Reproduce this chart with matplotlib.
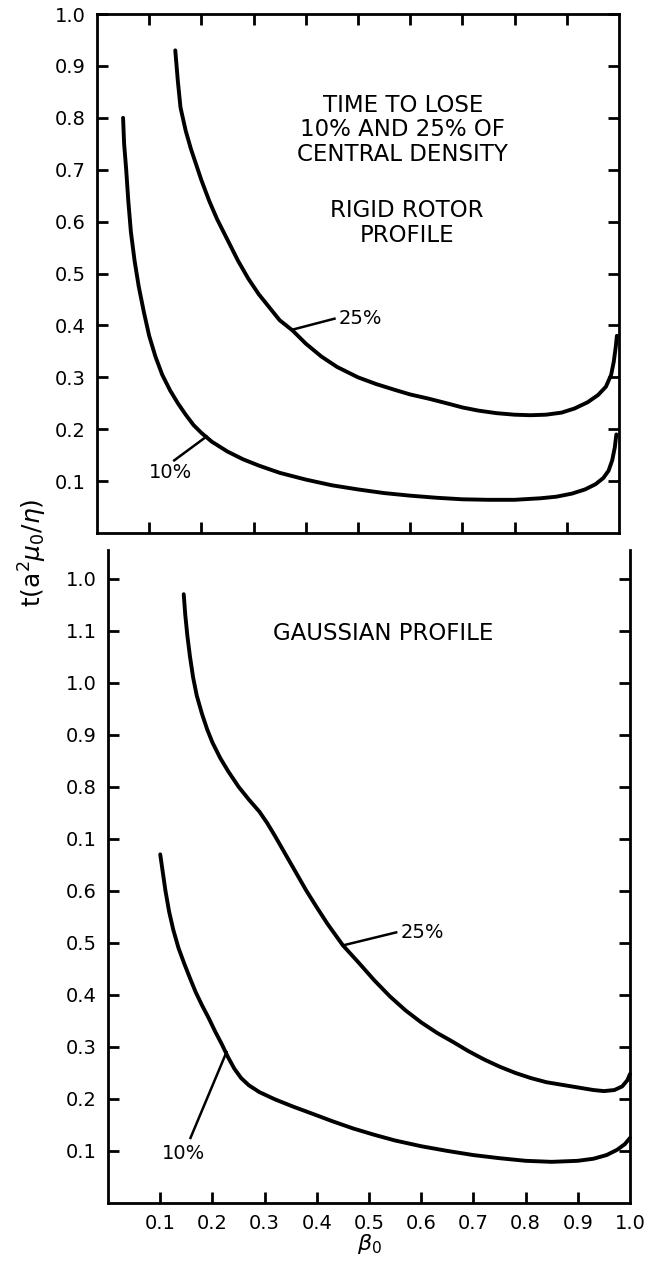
import matplotlib.pyplot as plt

# Rigid rotor profile: time to lose 10% / 25% of central density
rr_beta_10 = [0.05, 0.052, 0.056, 0.06, 0.065, 0.072, 0.08, 0.09, 0.10, 0.112,
              0.125, 0.14, 0.155, 0.17, 0.185, 0.2, 0.22, 0.25, 0.28, 0.31,
              0.35, 0.4, 0.45, 0.5, 0.55, 0.6, 0.65, 0.7, 0.75, 0.8,
              0.85, 0.88, 0.91, 0.935, 0.955, 0.97, 0.98, 0.987, 0.992, 0.995]
rr_time_10 = [0.80, 0.75, 0.70, 0.64, 0.58, 0.525, 0.475, 0.425, 0.38, 0.34,
              0.305, 0.275, 0.25, 0.228, 0.208, 0.193, 0.176, 0.157, 0.142, 0.13,
              0.116, 0.103, 0.092, 0.084, 0.077, 0.072, 0.068, 0.065, 0.064, 0.064,
              0.067, 0.07, 0.076, 0.084, 0.094, 0.106, 0.12, 0.14, 0.165, 0.19]
rr_beta_25 = [0.15, 0.155, 0.16, 0.17, 0.18, 0.19, 0.2, 0.215, 0.23, 0.25,
              0.27, 0.29, 0.31, 0.33, 0.35, 0.375, 0.4, 0.43, 0.46, 0.5,
              0.535, 0.57, 0.6, 0.635, 0.67, 0.7, 0.73, 0.765, 0.8, 0.83,
              0.86, 0.89, 0.915, 0.94, 0.96, 0.975, 0.985, 0.99, 0.994, 0.996]
rr_time_25 = [0.93, 0.87, 0.82, 0.775, 0.74, 0.71, 0.68, 0.64, 0.605, 0.565,
              0.525, 0.49, 0.46, 0.435, 0.41, 0.39, 0.365, 0.34, 0.32, 0.30,
              0.287, 0.276, 0.267, 0.259, 0.25, 0.242, 0.236, 0.231, 0.228, 0.227,
              0.228, 0.232, 0.24, 0.252, 0.266, 0.282, 0.305, 0.33, 0.36, 0.38]

# Gaussian profile
gs_beta_10 = [0.1, 0.105, 0.11, 0.117, 0.125, 0.135, 0.146, 0.157, 0.168, 0.18,
              0.193, 0.205, 0.218, 0.23, 0.242, 0.255, 0.27, 0.29, 0.32, 0.355,
              0.39, 0.43, 0.47, 0.51, 0.55, 0.6, 0.65, 0.7, 0.75, 0.8,
              0.85, 0.9, 0.93, 0.955, 0.975, 0.99, 1.0]
gs_time_10 = [0.67, 0.635, 0.6, 0.56, 0.525, 0.49, 0.46, 0.432, 0.405, 0.38,
              0.355, 0.33, 0.305, 0.28, 0.258, 0.24, 0.226, 0.213, 0.199, 0.185,
              0.172, 0.157, 0.143, 0.131, 0.12, 0.109, 0.1, 0.092, 0.086, 0.081,
              0.079, 0.081, 0.085, 0.092, 0.102, 0.113, 0.125]
gs_beta_25 = [0.145, 0.148, 0.152, 0.157, 0.163, 0.17, 0.18, 0.19, 0.2, 0.215,
              0.23, 0.25, 0.27, 0.29, 0.305, 0.32, 0.34, 0.36, 0.38, 0.4,
              0.42, 0.45, 0.48, 0.51, 0.54, 0.57, 0.6, 0.63, 0.66, 0.69,
              0.72, 0.75, 0.78, 0.81, 0.84, 0.87, 0.9, 0.93, 0.95, 0.97,
              0.985, 0.995, 1.0]
gs_time_25 = [1.17, 1.13, 1.09, 1.05, 1.01, 0.975, 0.94, 0.91, 0.885, 0.855,
              0.83, 0.80, 0.775, 0.752, 0.73, 0.705, 0.67, 0.635, 0.6, 0.568,
              0.537, 0.495, 0.462, 0.428, 0.397, 0.37, 0.347, 0.327, 0.31, 0.292,
              0.276, 0.262, 0.25, 0.24, 0.232, 0.227, 0.222, 0.217, 0.215, 0.217,
              0.224, 0.236, 0.248]

x_ticks = [0.1, 0.2, 0.3, 0.4, 0.5, 0.6, 0.7, 0.8, 0.9]
x_labels = ["0.1", "0.2", "0.3", "0.4", "0.5", "0.6", "0.7", "0.8", "0.9", "1.0"]
top_y_ticks = [0.1, 0.2, 0.3, 0.4, 0.5, 0.6, 0.7, 0.8, 0.9, 1.0]
top_y_labels = ["0.1", "0.2", "0.3", "0.4", "0.5", "0.6", "0.7", "0.8", "0.9", "1.0"]
bot_y_ticks = [0.1, 0.2, 0.3, 0.4, 0.5, 0.6, 0.7, 0.8, 0.9, 1.0, 1.1, 1.2]
bot_y_labels = ["0.1", "0.2", "0.3", "0.4", "0.5", "0.6", "0.1", "0.8", "0.9",
                "1.0", "1.1", "1.0"]

LW_AX = 2.0
LW_CURVE = 2.8
FS_TICK = 14
FS_TEXT = 16.5


def style_axes(ax):
    for side in ax.spines.values():
        side.set_linewidth(LW_AX)
    ax.tick_params(which='both', direction='in', length=8, width=LW_AX,
                   labelsize=FS_TICK, pad=8)


def draw_curve(ax, x, y):
    ax.plot(x, y, color='black', lw=LW_CURVE, solid_capstyle='round',
            solid_joinstyle='round', clip_on=False)


def main():
    plt.rcParams['font.family'] = ['DejaVu Sans']
    plt.rcParams['mathtext.fontset'] = 'dejavusans'

    fig = plt.figure(figsize=(6.66, 12.64), dpi=100)

    # upper panel: rigid rotor
    ax1 = fig.add_axes([0.1456, 0.5783, 0.7838, 0.4106])
    draw_curve(ax1, rr_beta_10, rr_time_10)
    draw_curve(ax1, rr_beta_25, rr_time_25)
    ax1.set_xlim(0, 1.0)
    ax1.set_ylim(0, 1.0)
    style_axes(ax1)
    ax1.set_xticks(x_ticks)
    ax1.set_xticklabels([])
    ax1.set_yticks(top_y_ticks)
    ax1.set_yticklabels(top_y_labels)
    ax1.tick_params(axis='x', top=True)
    ax1.tick_params(axis='y', right=True)

    ax1.text(0.586, 0.777, "TIME TO LOSE\n10% AND 25% OF\nCENTRAL DENSITY",
             ha='center', va='center', fontsize=FS_TEXT, linespacing=1.08)
    ax1.text(0.594, 0.598, "RIGID ROTOR\nPROFILE",
             ha='center', va='center', fontsize=FS_TEXT, linespacing=1.12)

    ax1.plot([0.375, 0.455], [0.392, 0.413], color='black', lw=1.8)
    ax1.text(0.462, 0.413, "25%", ha='left', va='center', fontsize=FS_TICK)
    ax1.plot([0.148, 0.21], [0.14, 0.186], color='black', lw=1.8)
    ax1.text(0.14, 0.117, "10%", ha='center', va='center', fontsize=FS_TICK)

    # lower panel: gaussian
    ax2 = fig.add_axes([0.1622, 0.0483, 0.7838, 0.5166])
    draw_curve(ax2, gs_beta_10, gs_time_10)
    draw_curve(ax2, gs_beta_25, gs_time_25)
    ax2.set_xlim(0, 1.0)
    ax2.set_ylim(0, 1.255)
    style_axes(ax2)
    ax2.spines['top'].set_visible(False)
    ax2.set_xticks(x_ticks + [1.0])
    ax2.set_xticklabels(x_labels)
    ax2.xaxis.get_major_ticks()[-1].tick1line.set_visible(False)
    ax2.set_yticks(bot_y_ticks)
    ax2.set_yticklabels(bot_y_labels)
    ax2.tick_params(axis='y', right=True)

    ax2.text(0.527, 1.095, "GAUSSIAN PROFILE", ha='center', va='center',
             fontsize=FS_TEXT)
    ax2.plot([0.45, 0.552], [0.495, 0.52], color='black', lw=1.8)
    ax2.text(0.56, 0.52, "25%", ha='left', va='center', fontsize=FS_TICK)
    ax2.plot([0.158, 0.227], [0.125, 0.29], color='black', lw=1.8)
    ax2.text(0.145, 0.095, "10%", ha='center', va='center', fontsize=FS_TICK)

    ax2.set_xlabel(r'$\beta_0$', fontsize=16, labelpad=-1)
    fig.text(0.05, 0.5625, r'$\mathrm{t}(\mathrm{a}^2\mu_0/\eta)$',
             rotation=90, ha='center', va='center', fontsize=18)

    fig.savefig('out.png', dpi=100)


if __name__ == '__main__':
    main()
